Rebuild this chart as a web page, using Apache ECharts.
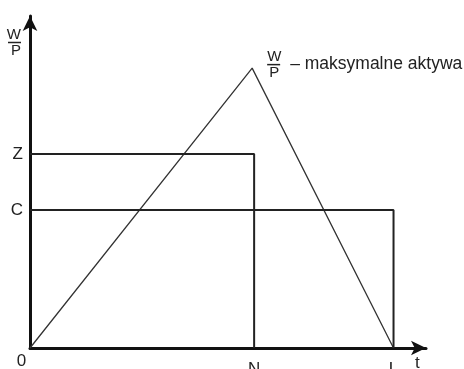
<!DOCTYPE html>
<html>
<head>
<meta charset="utf-8">
<script src="https://cdn.jsdelivr.net/npm/echarts@6/dist/echarts.min.js"></script>
<style>
  html, body { margin: 0; padding: 0; background: #ffffff; }
  #chart { width: 464px; height: 369px; }
</style>
</head>
<body>
<div id="chart"></div>
<script>
// oś t: punkty 0, N, L
const tNames = ['0', 'N', 'L']
const tValues = [0, 56.6, 91.8]
// oś W/P: poziomy C i Z
const levelNames = ['0', 'C', 'Z']
const levelValues = [0, 41.6, 58.4]
// wierzchołek trójkąta (maksymalne aktywa)
const peak = [56.1, 84.3]
const peakText = '– maksymalne aktywa'

const myChart = echarts.init(document.getElementById('chart'))

const font = 'Liberation Sans, Arial, sans-serif'
const ink = '#222'

// ułamek W/P jako tekst rich (tokeny wyrównane do lewej, centrowanie paddingiem)
const fracRich = {
  w: { fontSize: 15, lineHeight: 13, color: ink, fontFamily: font },
  bar: { fontSize: 1, width: 13, height: 1.5, lineHeight: 3, backgroundColor: ink },
  p: { fontSize: 15, lineHeight: 14, color: ink, fontFamily: font, padding: [0, 0, 0, 2] },
  t: { fontSize: 17.5, lineHeight: 3, color: ink, fontFamily: font, padding: [0, 0, 0, 10] }
}

const zBox = [[0, levelValues[2]], [tValues[1], levelValues[2]], [tValues[1], 0]]
const cBox = [[0, levelValues[1]], [tValues[2], levelValues[1]], [tValues[2], 0]]
const triangle = [
  [0, 0],
  {
    value: peak,
    label: {
      show: true,
      position: 'right',
      distance: 15,
      offset: [0, -3],
      formatter: '{w|W}\n{bar| }{t|' + peakText + '}\n{p|P}',
      rich: fracRich
    }
  },
  [tValues[2], 0]
]

const options = {
  animation: false,
  backgroundColor: '#ffffff',
  grid: { left: 30, right: 38, top: 16, bottom: 21, outerBoundsMode: 'none', containLabel: false },
  xAxis: {
    type: 'value',
    min: 0,
    max: 100,
    name: 't',
    nameLocation: 'end',
    nameGap: -11,
    nameTextStyle: { fontSize: 17, color: ink, fontFamily: font, verticalAlign: 'top', padding: [7, 0, 0, 0] },
    axisLine: {
      show: true,
      symbol: ['none', 'arrow'],
      symbolSize: [11, 15],
      lineStyle: { color: '#111', width: 3 }
    },
    axisTick: { show: false },
    splitLine: { show: false },
    axisLabel: {
      customValues: tValues,
      margin: 5,
      fontSize: 17,
      color: ink,
      fontFamily: font,
      formatter: function (v) {
        const i = tValues.indexOf(v)
        if (i === 0) return '{o|' + tNames[i] + '}'
        return '{n|' + tNames[i] + '}'
      },
      rich: {
        o: { fontSize: 17, color: ink, fontFamily: font, padding: [0, 17, 0, 0] },
        n: { fontSize: 17, color: ink, fontFamily: font, padding: [8, 0, 0, 0] }
      }
    }
  },
  yAxis: {
    type: 'value',
    min: 0,
    max: 100,
    name: '{w|W}\n{bar| }\n{p|P}',
    nameLocation: 'end',
    nameGap: -12,
    nameTextStyle: { align: 'right', verticalAlign: 'top', padding: [0, 9, 0, 0], rich: fracRich },
    axisLine: {
      show: true,
      symbol: ['none', 'arrow'],
      symbolSize: [11, 15],
      lineStyle: { color: '#111', width: 3 }
    },
    axisTick: { show: false },
    splitLine: { show: false },
    axisLabel: {
      customValues: levelValues.slice(1),
      margin: 7,
      fontSize: 17,
      color: ink,
      fontFamily: font,
      formatter: function (v) {
        return levelNames[levelValues.indexOf(v)]
      }
    }
  },
  series: [
    {
      type: 'line',
      data: zBox,
      symbol: 'none',
      lineStyle: { color: ink, width: 2 },
      z: 3
    },
    {
      type: 'line',
      data: cBox,
      symbol: 'none',
      lineStyle: { color: ink, width: 2 },
      z: 3
    },
    {
      type: 'line',
      data: triangle,
      symbol: 'circle',
      symbolSize: 0,
      showSymbol: true,
      lineStyle: { color: '#333', width: 1.3 },
      z: 2
    }
  ]
}
myChart.setOption(options)
</script>
</body>
</html>
